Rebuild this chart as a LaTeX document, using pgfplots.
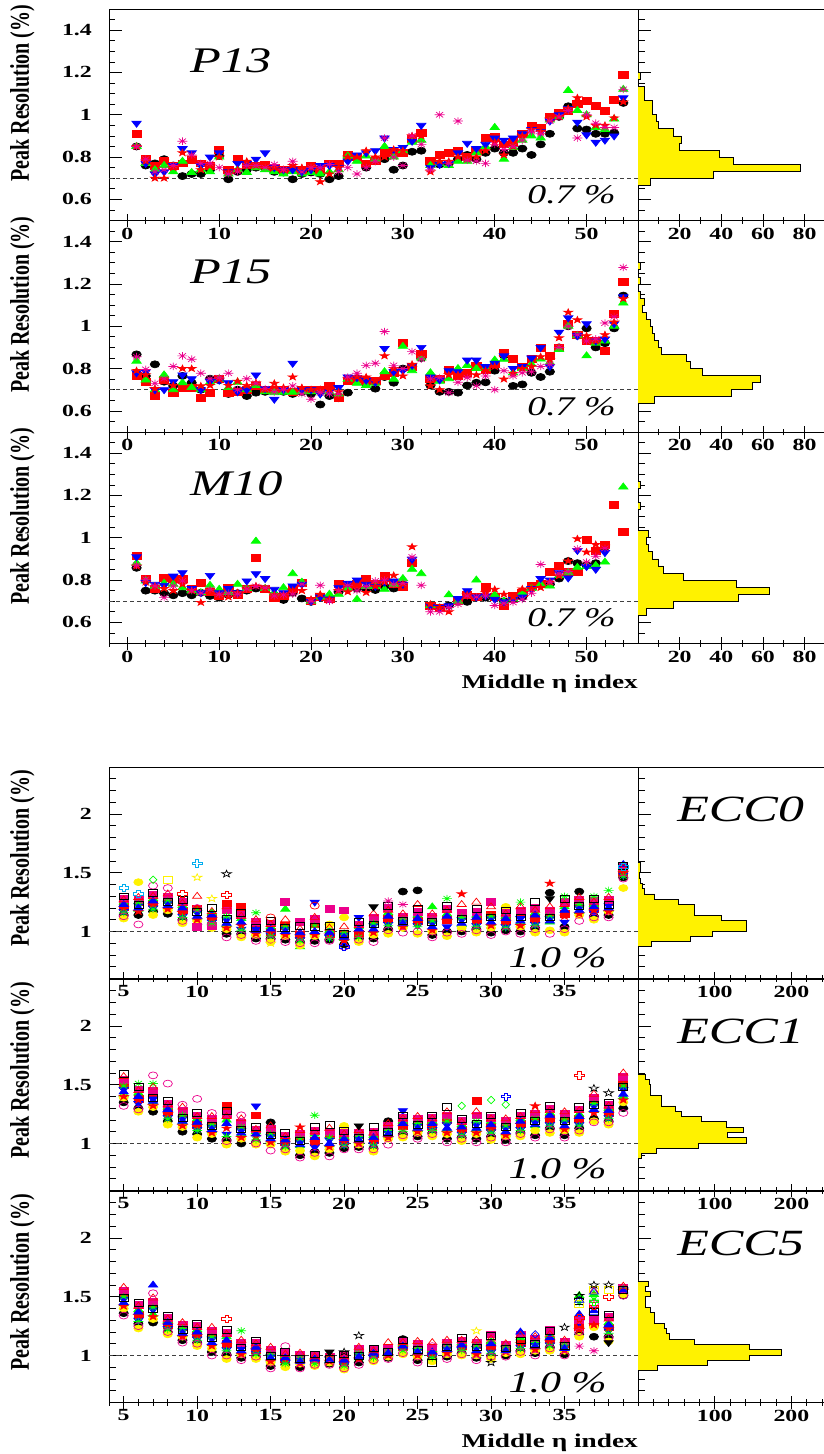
\documentclass[border=0pt]{standalone}
\usepackage{fontspec}
\newfontfamily\tf[FakeStretch=1.4]{Liberation Serif}
\newfontfamily\yf[FakeStretch=0.74]{Liberation Serif}
\usepackage{pgfplots}
\pgfplotsset{compat=1.18}
\usepackage{pgfplotstable}

\newcommand\tickfont{\tf\bfseries\fontsize{17pt}{17pt}\selectfont}
\newcommand\ylfont{\yf\bfseries\fontsize{27pt}{27pt}\selectfont}
\newcommand\xlfont{\tf\bfseries\fontsize{19.5pt}{20pt}\selectfont}
\newcommand\plfont{\tf\itshape\fontsize{36pt}{36pt}\selectfont}
\newcommand\pctfont{\tf\itshape\fontsize{27pt}{27pt}\selectfont}
\newcommand\eccfont{\tf\itshape\fontsize{37pt}{37pt}\selectfont}
\newcommand\pcteccfont{\tf\itshape\fontsize{30pt}{30pt}\selectfont}

% custom plot marks
\pgfdeclareplotmark{itri}{%
  \pgfpathmoveto{\pgfpointpolar{270}{\pgfplotmarksize}}%
  \pgfpathlineto{\pgfpointpolar{30}{\pgfplotmarksize}}%
  \pgfpathlineto{\pgfpointpolar{150}{\pgfplotmarksize}}%
  \pgfpathclose\pgfusepathqfillstroke}
\pgfdeclareplotmark{ast8}{%
  \pgfpathmoveto{\pgfpoint{-\pgfplotmarksize}{0pt}}\pgfpathlineto{\pgfpoint{\pgfplotmarksize}{0pt}}%
  \pgfpathmoveto{\pgfpoint{0pt}{-\pgfplotmarksize}}\pgfpathlineto{\pgfpoint{0pt}{\pgfplotmarksize}}%
  \pgfpathmoveto{\pgfpoint{-0.707\pgfplotmarksize}{-0.707\pgfplotmarksize}}\pgfpathlineto{\pgfpoint{0.707\pgfplotmarksize}{0.707\pgfplotmarksize}}%
  \pgfpathmoveto{\pgfpoint{-0.707\pgfplotmarksize}{0.707\pgfplotmarksize}}\pgfpathlineto{\pgfpoint{0.707\pgfplotmarksize}{-0.707\pgfplotmarksize}}%
  \pgfusepathqstroke}
\pgfdeclareplotmark{ocross}{%
  \pgfpathmoveto{\pgfpoint{0.35\pgfplotmarksize}{\pgfplotmarksize}}%
  \pgfpathlineto{\pgfpoint{0.35\pgfplotmarksize}{0.35\pgfplotmarksize}}%
  \pgfpathlineto{\pgfpoint{\pgfplotmarksize}{0.35\pgfplotmarksize}}%
  \pgfpathlineto{\pgfpoint{\pgfplotmarksize}{-0.35\pgfplotmarksize}}%
  \pgfpathlineto{\pgfpoint{0.35\pgfplotmarksize}{-0.35\pgfplotmarksize}}%
  \pgfpathlineto{\pgfpoint{0.35\pgfplotmarksize}{-\pgfplotmarksize}}%
  \pgfpathlineto{\pgfpoint{-0.35\pgfplotmarksize}{-\pgfplotmarksize}}%
  \pgfpathlineto{\pgfpoint{-0.35\pgfplotmarksize}{-0.35\pgfplotmarksize}}%
  \pgfpathlineto{\pgfpoint{-\pgfplotmarksize}{-0.35\pgfplotmarksize}}%
  \pgfpathlineto{\pgfpoint{-\pgfplotmarksize}{0.35\pgfplotmarksize}}%
  \pgfpathlineto{\pgfpoint{-0.35\pgfplotmarksize}{0.35\pgfplotmarksize}}%
  \pgfpathlineto{\pgfpoint{-0.35\pgfplotmarksize}{\pgfplotmarksize}}%
  \pgfpathclose\pgfusepathqstroke}
\def\starpath{%
  \pgfpathmoveto{\pgfpointpolar{90}{1.15\pgfplotmarksize}}%
  \pgfpathlineto{\pgfpointpolar{126}{0.45\pgfplotmarksize}}%
  \pgfpathlineto{\pgfpointpolar{162}{1.15\pgfplotmarksize}}%
  \pgfpathlineto{\pgfpointpolar{198}{0.45\pgfplotmarksize}}%
  \pgfpathlineto{\pgfpointpolar{234}{1.15\pgfplotmarksize}}%
  \pgfpathlineto{\pgfpointpolar{270}{0.45\pgfplotmarksize}}%
  \pgfpathlineto{\pgfpointpolar{306}{1.15\pgfplotmarksize}}%
  \pgfpathlineto{\pgfpointpolar{342}{0.45\pgfplotmarksize}}%
  \pgfpathlineto{\pgfpointpolar{18}{1.15\pgfplotmarksize}}%
  \pgfpathlineto{\pgfpointpolar{54}{0.45\pgfplotmarksize}}%
  \pgfpathclose}
\pgfdeclareplotmark{fstar}{\starpath\pgfusepathqfillstroke}
\pgfdeclareplotmark{ostar}{\starpath\pgfusepathqstroke}

\pgfplotsset{
  base/.style={scale only axis, height=211.5pt,
    axis line style={line width=0.9pt},
    tick style={black, line width=0.7pt},
    major tick length=13pt, minor tick length=6.5pt,
    xtick pos=left, ytick pos=left,
    xtick align=center, ytick align=inside,
    /pgf/number format/assume math mode=true,
    tick label style={font=\tickfont, inner sep=0pt},
    yticklabel style={xshift=-17pt},
    xticklabel style={yshift=-0.5pt}},
  topmain/.style={base, width=529pt, xmin=-2, xmax=55.6, ymin=0.5, ymax=1.5,
    xtick={0,10,...,50}, minor xtick={-2,0,...,54},
    ytick={0.6,0.8,1,1.2,1.4}, minor ytick={0.5,0.55,...,1.5},
    ylabel={Peak Resolution (\%)},
    ylabel style={font=\ylfont, at={(axis description cs:-0.14,1.02)}, anchor=south east, inner sep=0pt}},
  topside/.style={base, width=186pt, xmin=0, xmax=89.3, ymin=0.5, ymax=1.5,
    xtick={20,40,60,80}, minor xtick={10,30,50,70},
    ytick={0.6,0.8,1,1.2,1.4}, minor ytick={0.5,0.55,...,1.5}, yticklabel=\empty},
  eccmain/.style={base, width=529pt, xmin=4, xmax=40, ymin=0.6, ymax=2.4,
    xtick={5,10,...,35}, minor xtick={4,5,...,40},
    ytick={1,1.5,2}, minor ytick={0.6,0.7,...,2.4},
    ylabel={Peak Resolution (\%)},
    ylabel style={font=\ylfont, at={(axis description cs:-0.14,0.986)}, anchor=south east, inner sep=0pt}},
  eccside/.style={base, width=186pt, xmin=0, xmax=242.5, ymin=0.6, ymax=2.4,
    xtick={100,200}, minor xtick={20,40,...,240},
    ytick={1,1.5,2}, minor ytick={0.6,0.7,...,2.4}, yticklabel=\empty},
  xlab/.style={xlabel={Middle η index}, xlabel style={font=\xlfont, at={(axis description cs:1,0)}, anchor=base east, yshift=-45pt, inner sep=0pt}},
  hist/.style={fill=yellow, draw=black, line width=0.8pt},
  refl/.style={dash pattern=on 4pt off 3pt, line width=0.7pt, black!75},
  mk/.style={only marks, mark options={yscale=0.75, line width=0.7pt}},
  mK/.style={mk, mark=*, black, mark size=4.7pt},
  mR/.style={mk, mark=square*, red, mark size=4.6pt},
  mG/.style={mk, mark=triangle*, green, mark size=5.4pt},
  mB/.style={mk, mark=itri, blue, mark size=5.4pt},
  mS/.style={mk, mark=fstar, red, mark size=4pt},
  mM/.style={mk, mark=ast8, magenta, mark size=5pt},
  eA/.style={mk, mark=*, black, mark size=4.6pt},
  eB/.style={mk, mark=square*, red, mark size=4.5pt},
  eC/.style={mk, mark=triangle*, green, mark size=5.3pt},
  eD/.style={mk, mark=itri, blue, mark size=5.3pt},
  eE/.style={mk, mark=*, yellow, mark size=4.6pt},
  eF/.style={mk, mark=square*, magenta, mark size=4.5pt},
  eG/.style={mk, mark=fstar, red, mark size=4.2pt},
  eH/.style={mk, mark=ast8, green, mark size=4.9pt},
  eI/.style={mk, mark=triangle*, blue, mark size=5.3pt},
  eJ/.style={mk, mark=triangle, red, mark size=5.3pt},
  eK/.style={mk, mark=o, magenta, mark size=4.6pt},
  eL/.style={mk, mark=square, black, mark size=4.5pt},
}

% ---------------- data: top group (index, black circle, red square, green triangle, blue inv. triangle, magenta asterisk, red star)
\pgfplotstableread{
idx k r g b m s
1 0.85 0.91 0.85 0.96 0.85 0.85
2 0.76 0.79 0.77 0.77 0.79 0.78
3 0.77 0.76 0.74 0.72 0.73 0.70
4 0.79 0.78 0.76 0.73 0.74 0.70
5 0.76 0.76 0.73 0.76 0.76 0.75
6 0.71 0.77 0.78 0.84 0.875 0.82
7 0.72 0.785 0.727 0.82 0.81 0.80
8 0.72 0.77 0.74 0.76 0.77 0.74
9 0.74 0.76 0.73 0.80 0.77 0.76
10 0.805 0.836 0.80 0.82 0.75 0.80
11 0.695 0.74 0.72 0.73 0.72 0.73
12 0.73 0.79 0.74 0.77 0.73 0.74
13 0.74 0.765 0.727 0.77 0.76 0.78
14 0.75 0.76 0.75 0.79 0.76 0.76
15 0.75 0.765 0.74 0.82 0.75 0.76
16 0.73 0.75 0.73 0.75 0.765 0.75
17 0.727 0.74 0.72 0.74 0.74 0.74
18 0.695 0.74 0.73 0.74 0.78 0.76
19 0.72 0.735 0.72 0.73 0.73 0.75
20 0.727 0.76 0.727 0.74 0.75 0.75
21 0.72 0.74 0.72 0.76 0.75 0.683
22 0.695 0.77 0.73 0.76 0.765 0.72
23 0.71 0.77 0.74 0.75 0.73 0.75
24 0.80 0.81 0.805 0.78 0.75 0.80
25 0.80 0.80 0.78 0.81 0.72 0.80
26 0.75 0.77 0.805 0.82 0.75 0.83
27 0.78 0.78 0.79 0.83 0.78 0.80
28 0.79 0.82 0.85 0.89 0.89 0.80
29 0.74 0.82 0.80 0.836 0.80 0.836
30 0.76 0.82 0.83 0.845 0.76 0.83
31 0.825 0.884 0.87 0.875 0.90 0.90
32 0.83 0.915 0.88 0.95 0.86 0.90
33 0.765 0.78 0.76 0.75 0.74 0.73
34 0.765 0.81 0.77 0.765 1.0 0.78
35 0.77 0.82 0.76 0.77 0.77 0.78
36 0.79 0.83 0.78 0.82 0.97 0.80
37 0.81 0.80 0.78 0.865 0.785 0.79
38 0.79 0.83 0.82 0.84 0.78 0.80
39 0.82 0.89 0.85 0.86 0.77 0.83
40 0.84 0.895 0.94 0.89 0.86 0.87
41 0.82 0.86 0.79 0.88 0.836 0.81
42 0.82 0.87 0.845 0.89 0.85 0.85
43 0.84 0.91 0.88 0.91 0.88 0.90
44 0.81 0.95 0.90 0.93 0.92 0.93
45 0.86 0.94 0.89 0.92 0.91 0.92
46 0.91 0.99 0.975 0.97 0.97 0.98
47 0.99 1.01 0.99 1.0 0.99 0.99
48 1.04 1.02 1.115 1.03 1.02 1.03
49 0.935 1.05 1.02 0.965 0.89 1.08
50 0.93 1.065 1.0 0.905 1.0 0.99
51 0.91 1.04 0.94 0.87 0.96 0.95
52 0.91 1.02 0.93 0.88 0.94 0.95
53 0.915 1.07 0.98 0.90 0.94 0.985
54 1.056 1.19 1.12 1.08 1.12 1.06
}\tPA

\pgfplotstableread{
idx k r g b m s
1 0.867 0.765 0.835 0.78 0.856 0.79
2 0.765 0.738 0.746 0.785 0.796 0.77
3 0.82 0.67 0.70 0.70 0.73 0.705
4 0.738 0.746 0.77 0.70 0.752 0.74
5 0.718 0.686 0.70 0.738 0.81 0.72
6 0.765 0.71 0.733 0.77 0.86 0.80
7 0.733 0.71 0.71 0.752 0.844 0.80
8 0.70 0.66 0.70 0.70 0.778 0.718
9 0.752 0.686 0.735 0.74 0.752 0.72
10 0.745 0.75 0.75 0.745 0.757 0.749
11 0.68 0.686 0.71 0.733 0.778 0.72
12 0.70 0.69 0.735 0.69 0.70 0.74
13 0.67 0.70 0.70 0.70 0.752 0.72
14 0.686 0.72 0.72 0.77 0.73 0.733
15 0.69 0.70 0.69 0.705 0.705 0.70
16 0.70 0.70 0.686 0.655 0.69 0.73
17 0.69 0.70 0.688 0.70 0.70 0.71
18 0.68 0.69 0.688 0.825 0.718 0.76
19 0.69 0.70 0.69 0.70 0.68 0.71
20 0.68 0.70 0.69 0.70 0.655 0.70
21 0.63 0.70 0.69 0.68 0.686 0.70
22 0.67 0.718 0.69 0.69 0.68 0.70
23 0.66 0.66 0.68 0.71 0.68 0.69
24 0.686 0.74 0.75 0.76 0.76 0.75
25 0.75 0.75 0.73 0.757 0.778 0.76
26 0.73 0.74 0.72 0.745 0.815 0.76
27 0.705 0.74 0.73 0.735 0.825 0.74
28 0.76 0.765 0.785 0.895 0.975 0.86
29 0.733 0.78 0.75 0.785 0.815 0.80
30 0.80 0.92 0.905 0.79 0.80 0.765
31 0.81 0.81 0.79 0.815 0.88 0.82
32 0.85 0.87 0.85 0.90 0.845 0.87
33 0.72 0.752 0.78 0.76 0.752 0.718
34 0.69 0.752 0.74 0.746 0.757 0.70
35 0.69 0.796 0.752 0.79 0.686 0.77
36 0.686 0.765 0.80 0.785 0.735 0.77
37 0.72 0.78 0.815 0.84 0.757 0.77
38 0.733 0.815 0.80 0.84 0.718 0.77
39 0.735 0.796 0.80 0.81 0.765 0.79
40 0.79 0.82 0.84 0.825 0.70 0.81
41 0.862 0.875 0.844 0.86 0.79 0.75
42 0.718 0.844 0.78 0.80 0.765 0.778
43 0.725 0.81 0.80 0.81 0.78 0.80
44 0.78 0.845 0.82 0.85 0.785 0.81
45 0.76 0.90 0.845 0.90 0.81 0.856
46 0.785 0.86 0.828 0.81 0.82 0.84
47 0.90 0.90 0.89 0.972 0.90 0.945
48 1.0 1.01 1.0 1.04 1.0 1.066
49 0.955 0.96 0.955 0.955 0.96 1.03
50 0.99 0.93 0.86 1.012 0.93 0.955
51 0.90 0.93 0.92 0.93 0.94 0.93
52 0.92 0.885 0.93 0.94 1.015 0.96
53 0.99 1.06 1.0 1.012 1.045 1.02
54 1.145 1.21 1.11 1.14 1.278 1.13
}\tPB

\pgfplotstableread{
idx k r g b m s
1 0.858 0.916 0.88 0.91 0.87 0.866
2 0.75 0.804 0.796 0.788 0.804 0.79
3 0.75 0.756 0.77 0.78 0.772 0.77
4 0.738 0.81 0.785 0.775 0.717 0.76
5 0.728 0.807 0.78 0.819 0.772 0.75
6 0.738 0.807 0.764 0.835 0.796 0.78
7 0.728 0.76 0.75 0.76 0.75 0.75
8 0.74 0.788 0.74 0.74 0.738 0.694
9 0.725 0.744 0.775 0.822 0.756 0.75
10 0.717 0.725 0.756 0.74 0.733 0.73
11 0.73 0.764 0.74 0.76 0.738 0.72
12 0.738 0.73 0.78 0.74 0.733 0.74
13 0.75 0.76 0.76 0.796 0.758 0.758
14 0.76 0.906 0.984 0.83 0.77 0.772
15 0.758 0.76 0.76 0.807 0.764 0.76
16 0.73 0.717 0.74 0.756 0.725 0.73
17 0.706 0.725 0.764 0.74 0.73 0.73
18 0.74 0.76 0.83 0.772 0.733 0.75
19 0.713 0.788 0.79 0.78 0.78 0.75
20 0.697 0.70 0.70 0.70 0.70 0.709
21 0.717 0.72 0.72 0.72 0.775 0.733
22 0.71 0.71 0.733 0.71 0.70 0.71
23 0.744 0.78 0.733 0.764 0.75 0.75
24 0.76 0.77 0.76 0.785 0.775 0.744
25 0.76 0.78 0.709 0.80 0.75 0.77
26 0.76 0.804 0.77 0.78 0.77 0.741
27 0.753 0.78 0.77 0.77 0.796 0.77
28 0.77 0.819 0.756 0.79 0.80 0.79
29 0.76 0.78 0.78 0.796 0.78 0.822
30 0.78 0.77 0.807 0.78 0.785 0.78
31 0.88 0.882 0.851 0.898 0.909 0.957
32 nan nan 0.83 nan 0.775 nan
33 0.68 0.678 0.68 0.68 0.65 0.686
34 0.67 0.67 nan 0.67 0.65 0.67
35 0.68 nan 0.73 0.678 0.67 0.65
36 0.698 0.70 0.70 0.713 0.686 nan
37 0.697 0.73 nan 0.75 0.725 0.73
38 0.717 0.72 0.80 0.72 0.72 nan
39 0.717 0.77 0.73 0.725 0.725 0.741
40 0.717 0.72 0.73 0.709 0.68 0.756
41 0.70 0.678 0.70 0.697 0.69 0.733
42 0.71 0.725 0.71 0.709 0.694 0.72
43 0.72 0.738 0.741 0.72 0.709 0.758
44 0.764 0.772 0.76 0.76 0.738 0.76
45 0.78 0.78 0.78 0.807 0.874 0.764
46 0.78 0.838 0.772 0.80 0.79 0.79
47 0.807 0.869 0.82 0.835 0.83 0.82
48 0.89 0.838 0.835 0.81 0.84 0.89
49 0.88 0.838 0.86 0.94 0.948 0.995
50 0.87 0.99 0.864 0.864 0.885 0.932
51 0.88 0.94 0.869 0.851 0.913 0.968
52 0.957 0.968 0.885 0.93 0.95 0.96
53 nan 1.157 nan nan nan nan
54 nan 1.03 1.24 nan nan nan
}\tPC

% ---------------- data: ECC groups
\pgfplotstableread{
idx A B C D E F G H I J K L
5 1.14 1.21 1.25 1.17 1.11 1.28 1.20 1.16 1.23 1.27 1.13 1.30
6 1.14 1.25 1.19 1.22 1.42 1.27 1.17 1.24 1.20 1.29 1.06 1.23
7 1.17 1.24 1.28 1.20 1.14 1.31 1.23 1.19 1.26 1.30 1.39 1.33
8 1.15 1.27 1.21 1.24 1.18 1.30 1.19 1.26 1.22 1.32 1.37 1.25
9 1.10 1.18 1.22 1.13 1.07 1.25 1.16 1.12 1.20 1.24 1.09 1.27
10 1.06 1.19 1.12 1.16 1.09 1.04 1.10 1.18 1.13 1.30 1.20 1.17
11 1.06 1.12 1.16 1.08 1.03 1.05 1.11 1.07 1.14 1.17 1.05 1.20
12 0.98 1.24 1.06 1.10 1.02 1.18 1.03 1.13 1.07 1.21 0.95 1.11
13 0.98 1.21 1.11 1.02 0.95 1.14 1.05 1.01 1.08 1.13 0.97 1.16
14 0.94 1.05 0.98 1.02 0.97 1.08 0.98 1.16 1.01 1.10 0.92 1.03
15 0.94 1.00 1.04 0.97 0.91 1.07 0.99 0.96 1.02 1.06 0.93 1.09
16 0.93 1.05 1.19 1.02 0.96 1.25 0.97 1.04 1.00 1.10 0.91 1.03
17 0.91 0.97 0.87 0.93 0.88 1.08 0.96 0.92 0.99 1.02 0.90 1.05
18 0.92 1.06 0.99 1.25 0.96 1.11 0.97 1.05 1.00 1.12 0.90 1.04
19 0.93 0.98 1.01 0.95 1.06 1.19 0.97 0.94 0.99 1.03 0.92 1.05
20 0.89 0.97 0.94 0.97 1.12 1.18 0.92 0.99 0.95 1.04 0.87 0.98
21 0.94 0.98 1.04 1.12 0.91 1.06 0.99 0.95 1.02 1.05 0.93 1.08
22 0.94 1.09 1.01 1.05 0.97 1.12 0.99 1.07 1.02 1.15 0.91 1.06
23 1.02 1.11 1.16 1.06 0.98 1.20 1.10 1.05 1.13 1.18 1.01 1.22
24 1.34 1.11 1.06 1.08 1.03 1.13 1.04 1.10 1.07 1.15 0.99 1.09
25 1.35 1.09 1.14 1.05 0.98 1.17 1.08 1.04 1.11 1.23 1.00 1.19
26 0.97 1.10 1.21 1.07 1.00 1.13 1.01 1.09 1.04 1.15 0.95 1.08
27 1.00 1.10 1.15 1.04 0.96 1.19 1.09 1.28 1.13 1.18 0.99 1.22
28 1.00 1.13 1.06 1.10 1.03 1.16 1.32 1.12 1.07 1.23 0.98 1.11
29 1.02 1.10 1.14 1.05 0.99 1.17 1.09 1.04 1.12 1.25 1.01 1.19
30 0.99 1.14 1.07 1.11 1.03 1.25 1.05 1.13 1.08 1.21 0.97 1.12
31 1.01 1.09 1.13 1.04 1.21 1.16 1.08 1.03 1.11 1.15 1.00 1.18
32 1.00 1.15 1.08 1.11 1.04 1.18 1.05 1.25 1.09 1.21 0.98 1.12
33 1.03 1.11 1.16 1.06 0.99 1.20 1.10 1.05 1.14 1.18 1.02 1.25
34 1.33 1.15 1.08 1.11 1.01 1.18 1.41 1.13 1.09 1.21 0.98 1.12
35 1.04 1.15 1.21 1.08 0.99 1.25 1.13 1.30 1.18 1.23 1.02 1.28
36 1.34 1.24 1.17 1.20 1.14 1.27 1.15 1.23 1.18 1.29 1.09 1.22
37 1.13 1.19 1.23 1.16 1.10 1.26 1.18 1.30 1.21 1.25 1.12 1.28
38 1.14 1.25 1.19 1.22 1.17 1.27 1.17 1.35 1.20 1.29 1.12 1.23
39 1.46 1.50 1.53 1.48 1.37 1.55 1.50 1.47 1.57 1.54 1.45 1.56
}\tEA

\pgfplotstableread{
idx A B C D E F G H I J K L
5 1.35 1.50 1.42 1.46 1.39 1.54 1.40 1.49 1.44 1.57 1.32 1.59
6 1.30 1.38 1.43 1.34 1.27 1.46 1.37 1.51 1.40 1.45 1.29 1.48
7 1.27 1.42 1.35 1.38 1.31 1.45 1.32 1.51 1.36 1.48 1.58 1.39
8 1.19 1.27 1.31 1.22 1.16 1.34 1.25 1.21 1.29 1.33 1.51 1.36
9 1.10 1.25 1.18 1.21 1.14 1.28 1.15 1.24 1.19 1.31 1.33 1.22
10 1.08 1.16 1.21 1.12 1.05 1.24 1.15 1.11 1.18 1.23 1.38 1.26
11 1.04 1.17 1.11 1.14 1.08 1.21 1.09 1.16 1.12 1.23 1.26 1.15
12 1.03 1.32 1.20 1.08 0.99 1.25 1.13 1.06 1.17 1.23 1.02 1.28
13 1.00 1.15 1.08 1.11 1.04 1.18 1.05 1.14 1.09 1.21 1.24 1.12
14 1.01 1.24 1.10 1.32 0.99 1.12 1.06 1.03 1.08 1.12 1.00 1.14
15 1.18 1.09 1.03 1.06 0.99 1.13 1.01 1.08 1.04 1.15 0.94 1.07
16 0.95 1.01 1.05 0.98 0.93 1.07 1.01 0.97 1.03 1.06 0.95 1.09
17 0.90 1.05 0.98 1.01 0.94 1.08 1.14 1.04 0.99 1.11 0.88 1.02
18 0.93 1.02 1.08 0.97 0.89 1.11 1.01 1.24 1.05 1.10 0.92 1.14
19 0.92 1.07 0.99 1.03 0.95 1.10 0.97 1.05 1.00 1.13 0.89 1.16
20 0.96 1.02 1.06 0.99 1.15 1.09 1.02 0.98 1.04 1.08 0.95 1.11
21 0.97 1.07 1.02 1.04 0.99 1.09 1.00 1.06 1.03 1.11 0.95 1.05
22 0.96 1.03 1.07 0.99 0.93 1.10 1.02 0.98 1.05 1.09 0.95 1.14
23 1.19 1.12 1.07 1.09 1.04 1.15 1.05 1.11 1.08 1.17 0.99 1.10
24 1.08 1.15 1.19 1.28 1.05 1.22 1.14 1.10 1.17 1.21 1.07 1.24
25 1.06 1.18 1.12 1.15 1.09 1.21 1.10 1.17 1.13 1.23 1.04 1.16
26 1.09 1.15 1.19 1.12 1.06 1.22 1.15 1.11 1.17 1.21 1.08 1.24
27 1.04 1.20 1.12 1.16 1.08 1.24 1.09 1.19 1.13 1.27 1.01 1.31
28 1.05 1.12 1.16 1.08 1.02 1.19 1.11 1.07 1.14 1.18 1.04 1.21
29 1.04 1.36 1.12 1.16 1.08 1.24 1.09 1.19 1.13 1.27 1.01 1.17
30 1.06 1.14 1.19 1.10 1.03 1.22 1.13 1.09 1.16 1.21 1.05 1.24
31 1.03 1.16 1.09 1.13 1.06 1.19 1.07 1.15 1.10 1.21 1.01 1.14
32 1.09 1.17 1.21 1.12 1.06 1.24 1.16 1.11 1.19 1.23 1.08 1.26
33 1.07 1.22 1.15 1.18 1.11 1.25 1.32 1.21 1.16 1.28 1.05 1.19
34 1.13 1.21 1.26 1.16 1.09 1.30 1.20 1.15 1.24 1.28 1.12 1.32
35 1.07 1.21 1.14 1.18 1.11 1.25 1.12 1.20 1.15 1.27 1.05 1.19
36 1.13 1.21 1.25 1.16 1.09 1.29 1.20 1.15 1.23 1.28 1.11 1.31
37 1.21 1.36 1.28 1.32 1.19 1.39 1.26 1.34 1.29 1.42 1.18 1.33
38 1.19 1.26 1.30 1.22 1.16 1.33 1.25 1.21 1.28 1.32 1.18 1.35
39 1.30 1.51 1.40 1.46 1.35 1.57 1.37 1.49 1.42 1.60 1.26 1.48
}\tEB

\pgfplotstableread{
idx A B C D E F G H I J K L
5 1.36 1.52 1.44 1.48 1.40 1.55 1.42 1.50 1.45 1.58 1.34 1.49
6 1.27 1.35 1.39 1.30 1.23 1.43 1.34 1.29 1.37 1.42 1.25 1.45
7 1.28 1.43 1.35 1.39 1.31 1.46 1.33 1.41 1.60 1.49 1.53 1.40
8 1.20 1.26 1.30 1.23 1.18 1.32 1.26 1.22 1.28 1.31 1.20 1.34
9 1.13 1.24 1.18 1.21 1.16 1.26 1.16 1.23 1.19 1.28 1.11 1.22
10 1.11 1.18 1.22 1.14 1.08 1.25 1.17 1.13 1.20 1.24 1.10 1.27
11 1.03 1.18 1.10 1.14 1.06 1.21 1.08 1.16 1.11 1.24 1.00 1.15
12 1.01 1.10 1.16 1.05 0.97 1.19 1.09 1.04 1.13 1.18 1.00 1.22
13 0.98 1.09 1.03 1.06 1.01 1.11 1.01 1.21 1.04 1.13 0.96 1.07
14 0.99 1.05 1.09 1.02 0.97 1.11 1.05 1.01 1.07 1.10 0.99 1.13
15 0.91 1.02 0.97 0.99 0.94 1.05 0.95 1.01 0.98 1.07 0.89 1.00
16 0.92 0.97 1.00 0.94 0.90 1.02 0.96 0.93 0.98 1.01 1.08 1.03
17 0.90 0.99 0.95 0.97 0.93 1.01 0.93 0.98 0.95 1.02 0.89 0.97
18 0.92 0.96 0.98 0.94 0.91 1.00 0.96 0.93 0.97 0.99 0.92 1.01
19 0.93 0.98 0.96 0.97 0.94 0.99 0.95 0.98 0.96 1.01 0.92 0.97
20 0.90 0.95 0.98 0.92 0.88 1.00 0.94 0.91 0.96 0.99 0.89 1.01
21 0.94 1.03 0.98 1.01 1.05 1.06 0.97 1.02 0.99 1.07 0.92 1.00
22 0.96 1.01 1.03 0.98 0.95 1.05 1.00 0.98 1.02 1.04 0.96 1.06
23 0.98 1.04 1.01 1.03 0.99 1.06 1.00 1.03 1.02 1.11 0.97 1.03
24 1.14 1.07 1.10 1.05 1.01 1.12 1.07 1.04 1.08 1.11 1.02 1.13
25 0.96 1.07 1.02 1.04 0.99 1.10 1.00 1.06 1.03 1.12 0.94 1.05
26 0.97 1.02 1.05 0.99 0.95 1.07 1.01 0.98 1.03 1.11 1.08 0.94
27 0.99 1.09 1.04 1.06 1.01 1.11 1.02 1.08 1.05 1.13 0.97 1.07
28 1.02 1.08 1.11 1.05 1.00 1.13 1.07 1.04 1.09 1.13 1.01 1.15
29 0.98 1.09 1.03 1.06 1.00 1.11 1.01 1.08 1.04 1.13 0.96 1.07
30 1.00 1.08 1.12 1.03 0.97 1.18 1.07 1.02 1.10 1.14 0.99 1.17
31 1.00 1.07 1.04 1.06 1.02 1.09 1.03 1.07 1.04 1.10 0.99 1.06
32 1.04 1.11 1.15 1.07 1.01 1.18 1.10 1.06 1.20 1.17 1.03 1.13
33 1.02 1.12 1.07 1.09 1.04 1.14 1.05 1.11 1.08 1.16 1.00 1.10
34 1.07 1.13 1.17 1.09 1.04 1.22 1.12 1.08 1.15 1.18 1.06 1.21
35 1.01 1.10 1.06 1.08 1.04 1.12 1.04 1.09 1.06 1.13 1.00 1.08
36 1.18 1.24 1.51 1.28 1.16 1.30 1.22 1.45 1.35 1.26 1.20 1.46
37 1.16 1.28 1.52 1.33 1.24 1.31 1.26 1.48 1.38 1.55 1.44 1.37
38 1.16 1.24 1.28 1.21 1.12 1.33 1.23 1.19 1.26 1.31 1.15 1.35
39 1.51 1.57 1.54 1.56 1.52 1.58 1.55 1.57 1.55 1.59 1.51 1.56
}\tEC

\newcommand\drawtopmarks[1]{%
  \addplot[mK] table[x=idx,y=k]{#1};
  \addplot[mR] table[x=idx,y=r]{#1};
  \addplot[mG] table[x=idx,y=g]{#1};
  \addplot[mB] table[x=idx,y=b]{#1};
  \addplot[mS] table[x=idx,y=s]{#1};
  \addplot[mM] table[x=idx,y=m]{#1};}
\newcommand\draweccmarks[1]{%
  \addplot[eA] table[x=idx,y=A]{#1};
  \addplot[eB] table[x=idx,y=B]{#1};
  \addplot[eC] table[x=idx,y=C]{#1};
  \addplot[eD] table[x=idx,y=D]{#1};
  \addplot[eE] table[x=idx,y=E]{#1};
  \addplot[eF] table[x=idx,y=F]{#1};
  \addplot[eG] table[x=idx,y=G]{#1};
  \addplot[eH] table[x=idx,y=H]{#1};
  \addplot[eI] table[x=idx,y=I]{#1};
  \addplot[eJ] table[x=idx,y=J]{#1};
  \addplot[eK] table[x=idx,y=K]{#1};
  \addplot[eL] table[x=idx,y=L]{#1};}

\begin{document}
\begin{tikzpicture}
\useasboundingbox (0pt,-1454pt) rectangle (823pt,0pt);

% ===================== P13
\begin{axis}[topmain, at={(109pt,-9pt)}, anchor=north west]
\addplot[refl] coordinates {(-2,0.7) (55.6,0.7)};
\drawtopmarks{\tPA}
\node[anchor=base west, font=\plfont, inner sep=0pt] at (rel axis cs:0.153,0.70) {P13};
\node[anchor=base east, font=\pctfont, inner sep=0pt] at (rel axis cs:0.958,0.08) {0.7 \%};
\end{axis}
\begin{axis}[topside, at={(638pt,-9pt)}, anchor=north west]
\addplot[hist] coordinates {(0,0.6667)(6,0.6667)(6,0.7)(36,0.7)(36,0.7333)(78,0.7333)(78,0.7667)(46,0.7667)(46,0.8)(39,0.8)(39,0.8333)(20,0.8333)(20,0.8667)(21,0.8667)(21,0.9)(17,0.9)(17,0.9333)(10,0.9333)(10,0.9667)(9,0.9667)(9,1.0)(7,1.0)(7,1.0667)(3,1.0667)(3,1.1333)(0,1.1333)(0,1.1667)(1,1.1667)(1,1.2)(0,1.2)};
\end{axis}

% ===================== P15
\begin{axis}[topmain, at={(109pt,-220.5pt)}, anchor=north west]
\addplot[refl] coordinates {(-2,0.7) (55.6,0.7)};
\drawtopmarks{\tPB}
\node[anchor=base west, font=\plfont, inner sep=0pt] at (rel axis cs:0.153,0.70) {P15};
\node[anchor=base east, font=\pctfont, inner sep=0pt] at (rel axis cs:0.958,0.08) {0.7 \%};
\end{axis}
\begin{axis}[topside, at={(638pt,-220.5pt)}, anchor=north west]
\addplot[hist] coordinates {(0,0.6333)(8,0.6333)(8,0.6667)(45,0.6667)(45,0.7)(55,0.7)(55,0.7333)(59,0.7333)(59,0.7667)(31,0.7667)(31,0.8)(25,0.8)(25,0.8333)(23,0.8333)(23,0.8667)(11,0.8667)(11,0.9)(10,0.9)(10,0.9333)(8,0.9333)(8,0.9667)(7,0.9667)(7,1.0)(6,1.0)(6,1.0333)(4,1.0333)(4,1.0667)(2,1.0667)(2,1.1)(3,1.1)(3,1.1333)(1,1.1333)(1,1.1667)(0,1.1667)(0,1.2)(1,1.2)(1,1.2333)(0,1.2333)(0,1.2667)(1,1.2667)(1,1.3)(0,1.3)};
\end{axis}

% ===================== M10
\begin{axis}[topmain, xlab, at={(109pt,-432pt)}, anchor=north west]
\addplot[refl] coordinates {(-2,0.7) (55.6,0.7)};
\drawtopmarks{\tPC}
\node[anchor=base west, font=\plfont, inner sep=0pt] at (rel axis cs:0.153,0.70) {M10};
\node[anchor=base east, font=\pctfont, inner sep=0pt] at (rel axis cs:0.958,0.08) {0.7 \%};
\end{axis}
\begin{axis}[topside, at={(638pt,-432pt)}, anchor=north west]
\addplot[hist] coordinates {(0,0.6333)(4,0.6333)(4,0.6667)(17,0.6667)(17,0.7)(48,0.7)(48,0.7333)(63,0.7333)(63,0.7667)(47,0.7667)(47,0.8)(22,0.8)(22,0.8333)(12,0.8333)(12,0.8667)(10,0.8667)(10,0.9)(7,0.9)(7,0.9333)(5,0.9333)(5,0.9667)(4,0.9667)(4,1.0)(5,1.0)(5,1.0333)(0,1.0333)(0,1.1333)(1,1.1333)(1,1.1667)(0,1.1667)(0,1.2333)(1,1.2333)(1,1.2667)(0,1.2667)};
\end{axis}

% ===================== ECC0
\begin{axis}[eccmain, at={(109pt,-767pt)}, anchor=north west]
\addplot[refl] coordinates {(4,1) (40,1)};
\draweccmarks{\tEA}
\addplot[mk, mark=ocross, cyan, mark size=4.8pt] coordinates {(5,1.37) (6,1.32) (10,1.58) (39,1.55)};
\addplot[mk, mark=ostar, yellow, mark size=4.3pt] coordinates {(10,1.46) (11,1.28) (15,0.90)};
\addplot[mk, mark=ostar, black, mark size=4.3pt] coordinates {(12,1.49)};
\addplot[mk, mark=ocross, red, mark size=4.8pt] coordinates {(9,1.32) (12,1.31)};
\addplot[mk, mark=diamond, green, mark size=5pt] coordinates {(7,1.44)};
\addplot[mk, mark=square, yellow, mark size=4.5pt] coordinates {(8,1.44)};
\addplot[mk, mark=ast8, magenta, mark size=4.9pt] coordinates {(23,1.26) (24,1.23)};
\addplot[mk, mark=itri, black, mark size=5.3pt] coordinates {(22,1.21) (34,1.28)};
\addplot[mk, mark=o, red, mark size=4.6pt] coordinates {(15,1.12) (18,1.22)};
\addplot[mk, mark=ocross, blue, mark size=4.8pt] coordinates {(20,0.87)};
\node[anchor=base east, font=\pcteccfont, inner sep=0pt] at (rel axis cs:0.941,0.052) {1.0 \%};
\end{axis}
\begin{axis}[eccside, at={(638pt,-767pt)}, anchor=north west]
\addplot[hist] coordinates {(0,0.87)(17,0.87)(17,0.915)(68,0.915)(68,0.96)(97,0.96)(97,1.005)(141,1.005)(141,1.095)(109,1.095)(109,1.14)(74,1.14)(74,1.23)(53,1.23)(53,1.275)(22,1.275)(22,1.32)(8,1.32)(8,1.365)(6,1.365)(6,1.41)(3,1.41)(3,1.455)(2,1.455)(2,1.5)(3,1.5)(3,1.59)(0,1.59)};
\node[anchor=base west, font=\eccfont, inner sep=0pt] at (rel axis cs:0.21,0.74) {ECC0};
\end{axis}

% ===================== ECC1
\begin{axis}[eccmain, at={(109pt,-979pt)}, anchor=north west]
\addplot[refl] coordinates {(4,1) (40,1)};
\draweccmarks{\tEB}
\addplot[mk, mark=itri, black, mark size=5.3pt] coordinates {(21,1.15)};
\addplot[mk, mark=diamond, green, mark size=5pt] coordinates {(28,1.32) (30,1.37) (31,1.33)};
\addplot[mk, mark=ocross, blue, mark size=4.8pt] coordinates {(31,1.40)};
\addplot[mk, mark=ocross, red, mark size=4.8pt] coordinates {(36,1.58)};
\addplot[mk, mark=ostar, black, mark size=4.3pt] coordinates {(37,1.47) (38,1.43)};
\node[anchor=base east, font=\pcteccfont, inner sep=0pt] at (rel axis cs:0.941,0.057) {1.0 \%};
\end{axis}
\begin{axis}[eccside, at={(638pt,-979pt)}, anchor=north west]
\addplot[hist] coordinates {(0,0.87)(5,0.87)(5,0.915)(24,0.915)(24,0.96)(79,0.96)(79,1.005)(141,1.005)(141,1.05)(116,1.05)(116,1.095)(137,1.095)(137,1.14)(115,1.14)(115,1.185)(83,1.185)(83,1.23)(56,1.23)(56,1.275)(49,1.275)(49,1.32)(30,1.32)(30,1.41)(16,1.41)(16,1.5)(15,1.5)(15,1.545)(10,1.545)(10,1.59)(0,1.59)};
\node[anchor=base west, font=\eccfont, inner sep=0pt] at (rel axis cs:0.21,0.697) {ECC1};
\end{axis}

% ===================== ECC5
\begin{axis}[eccmain, xlab, at={(109pt,-1191pt)}, anchor=north west]
\addplot[refl] coordinates {(4,1) (40,1)};
\draweccmarks{\tEC}
\addplot[mk, mark=ocross, red, mark size=4.8pt] coordinates {(12,1.31) (36,1.32) (37,1.42) (38,1.50)};
\addplot[mk, mark=square, yellow, mark size=4.5pt] coordinates {(36,1.44) (37,1.56) (38,1.56)};
\addplot[mk, mark=triangle, blue, mark size=5.3pt] coordinates {(36,1.47) (37,1.54)};
\addplot[mk, mark=ocross, green, mark size=4.8pt] coordinates {(37,1.46)};
\addplot[mk, mark=ostar, black, mark size=4.3pt] coordinates {(20,1.03) (21,1.17) (30,0.94) (35,1.24) (36,1.51) (37,1.60) (38,1.60)};
\addplot[mk, mark=ostar, yellow, mark size=4.3pt] coordinates {(29,1.21)};
\addplot[mk, mark=ast8, magenta, mark size=4.9pt] coordinates {(36,1.08) (37,1.04)};
\addplot[mk, mark=itri, black, mark size=5.3pt] coordinates {(19,1.03) (38,1.11)};
\addplot[mk, mark=diamond, blue, mark size=5pt] coordinates {(33,1.18)};
\node[anchor=base east, font=\pcteccfont, inner sep=0pt] at (rel axis cs:0.941,0.047) {1.0 \%};
\end{axis}
\begin{axis}[eccside, at={(638pt,-1191pt)}, anchor=north west]
\addplot[hist] coordinates {(0,0.87)(25,0.87)(25,0.915)(91,0.915)(91,0.96)(145,0.96)(145,1.005)(187,1.005)(187,1.05)(145,1.05)(145,1.095)(74,1.095)(74,1.14)(41,1.14)(41,1.185)(37,1.185)(37,1.23)(35,1.23)(35,1.275)(22,1.275)(22,1.365)(16,1.365)(16,1.41)(9,1.41)(9,1.455)(10,1.455)(10,1.5)(16,1.5)(16,1.545)(9,1.545)(9,1.59)(13,1.59)(13,1.635)(0,1.635)};
\node[anchor=base west, font=\eccfont, inner sep=0pt] at (rel axis cs:0.21,0.697) {ECC5};
\end{axis}

\end{tikzpicture}
\end{document}
